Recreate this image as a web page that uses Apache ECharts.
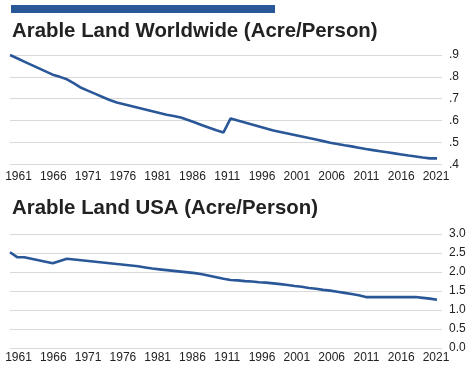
<!DOCTYPE html>
<html>
<head>
<meta charset="utf-8">
<script src="https://cdn.jsdelivr.net/npm/echarts@6/dist/echarts.min.js"></script>
<style>
html,body{margin:0;padding:0;background:#fff;}
#chart{width:474px;height:378px;}
</style>
</head>
<body>
<div id="chart"></div>
<script>
// ---- data ----
const years = [];
for (let y = 1961; y <= 2021; y++) years.push(y);

const worldValues = [
  0.900, 0.885, 0.870, 0.855, 0.840, 0.825, 0.810, 0.800, 0.789, 0.770,
  0.750, 0.736, 0.722, 0.708, 0.694, 0.683, 0.675, 0.667, 0.659, 0.651,
  0.643, 0.635, 0.627, 0.621, 0.614, 0.603, 0.591, 0.579, 0.567, 0.556,
  0.546, 0.610, 0.600, 0.591, 0.582, 0.573, 0.564, 0.555, 0.548, 0.541,
  0.534, 0.527, 0.520, 0.513, 0.506, 0.499, 0.493, 0.487, 0.482, 0.476,
  0.470, 0.465, 0.460, 0.455, 0.450, 0.445, 0.440, 0.436, 0.431, 0.427,
  0.427
];

const usaValues = [
  2.52, 2.39, 2.39, 2.35, 2.31, 2.27, 2.23, 2.29, 2.35, 2.33,
  2.31, 2.29, 2.27, 2.25, 2.23, 2.21, 2.19, 2.17, 2.15, 2.12,
  2.09, 2.07, 2.05, 2.03, 2.01, 1.99, 1.97, 1.94, 1.90, 1.86,
  1.82, 1.79, 1.78, 1.76, 1.75, 1.73, 1.72, 1.70, 1.68, 1.66,
  1.63, 1.61, 1.58, 1.56, 1.53, 1.51, 1.48, 1.45, 1.42, 1.39,
  1.34, 1.34, 1.34, 1.34, 1.34, 1.34, 1.34, 1.34, 1.32, 1.30,
  1.27
];

// x tick labels (every 5 years; the source labels 1991 as "1911")
const xTickYears  = [1961, 1966, 1971, 1976, 1981, 1986, 1991, 1996, 2001, 2006, 2011, 2016, 2021];
const xTickLabels = ['1961','1966','1971','1976','1981','1986','1911','1996','2001','2006','2011','2016','2021'];

const worldTicks = ['.4', '.5', '.6', '.7', '.8', '.9'];
const usaTicks = ['0.0', '0.5', '1.0', '1.5', '2.0', '2.5', '3.0'];

const titles = ['Arable Land Worldwide (Acre/Person)', 'Arable Land USA (Acre/Person)'];

// ---- chart ----
const BLUE = '#2a5798';
const TEXT = '#222222';
const GRID = '#d9d9d9';
const FONT = 'Liberation Sans, Arial, sans-serif';

function xLabel(v) {
  const r = Math.round(v);
  const i = xTickYears.indexOf(r);
  if (Math.abs(v - r) > 1e-6 || i < 0) return '';
  return xTickLabels[i];
}

// data x axes (no labels)
function dataX(gridIndex) {
  return {
    type: 'value', gridIndex, min: 1961, max: 2021.7, interval: 5,
    axisLine: { show: false }, axisTick: { show: false }, splitLine: { show: false },
    axisLabel: { show: false }
  };
}
// label-only x axes (the source spaces its year labels slightly differently from the line)
function labelX(gridIndex, margin) {
  return {
    type: 'value', gridIndex, min: 1961, max: 2021, interval: 5,
    axisLine: { show: false }, axisTick: { show: false }, splitLine: { show: false },
    axisLabel: {
      color: TEXT, fontSize: 12, fontFamily: FONT, hideOverlap: false,
      margin, formatter: xLabel, showMinLabel: true, showMaxLabel: true
    }
  };
}
function hiddenY(gridIndex) {
  return { type: 'value', gridIndex, min: 0, max: 1, show: false, splitLine: { show: false } };
}

const chart = echarts.init(document.getElementById('chart'), null, { renderer: 'canvas' });
chart.setOption({
  animation: false,
  backgroundColor: '#ffffff',
  graphic: [{
    type: 'rect', left: 11, top: 5, shape: { width: 264, height: 8 },
    style: { fill: BLUE }
  }],
  title: [
    { text: titles[0], left: 7, top: 16,
      textStyle: { fontFamily: FONT, fontWeight: 'bold', fontSize: 20.4, color: TEXT } },
    { text: titles[1], left: 7, top: 193,
      textStyle: { fontFamily: FONT, fontWeight: 'bold', fontSize: 20.4, color: TEXT } }
  ],
  grid: [
    { left: 10, right: 32, top: 55, height: 109.3 },
    { left: 10, right: 32, top: 234, height: 114 },
    { left: 18.5, right: 38, top: 55, height: 109.3 },
    { left: 18.5, right: 38, top: 234, height: 114 }
  ],
  xAxis: [dataX(0), dataX(1), labelX(2, 6), labelX(3, 4)],
  yAxis: [
    { type: 'value', gridIndex: 0, position: 'right', min: 0.4, max: 0.9, interval: 0.1,
      axisLine: { show: false }, axisTick: { show: false },
      splitLine: { lineStyle: { color: GRID, width: 1 } },
      axisLabel: { color: TEXT, fontSize: 12, fontFamily: FONT, margin: 7,
        formatter: v => worldTicks[Math.round((v - 0.4) * 10)] || '' } },
    { type: 'value', gridIndex: 1, position: 'right', min: 0, max: 3, interval: 0.5,
      axisLine: { show: false }, axisTick: { show: false },
      splitLine: { lineStyle: { color: GRID, width: 1 } },
      axisLabel: { color: TEXT, fontSize: 12, fontFamily: FONT, margin: 7,
        formatter: v => usaTicks[Math.round(v * 2)] || '' } },
    hiddenY(2), hiddenY(3)
  ],
  series: [
    { type: 'line', xAxisIndex: 0, yAxisIndex: 0, showSymbol: false, symbol: 'none',
      lineStyle: { color: BLUE, width: 2.6 },
      data: years.map((y, i) => [y, worldValues[i]]) },
    { type: 'line', xAxisIndex: 1, yAxisIndex: 1, showSymbol: false, symbol: 'none',
      lineStyle: { color: BLUE, width: 2.6 },
      data: years.map((y, i) => [y, usaValues[i]]) }
  ]
});
</script>
</body>
</html>
